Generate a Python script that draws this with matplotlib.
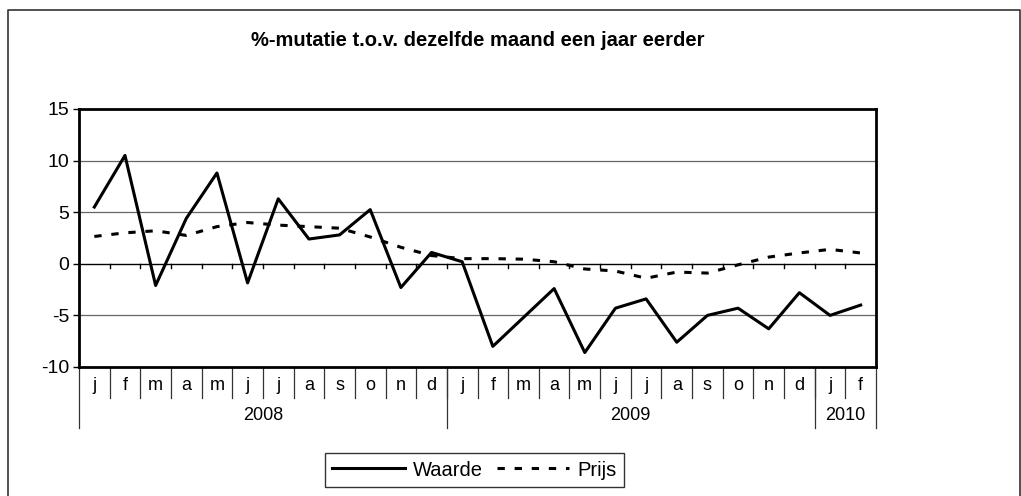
import matplotlib
matplotlib.use("Agg")
from matplotlib import pyplot as plt
from matplotlib.lines import Line2D

plt.rcParams['font.family'] = ['Liberation Sans', 'DejaVu Sans']

months = ['j', 'f', 'm', 'a', 'm', 'j', 'j', 'a', 's', 'o', 'n', 'd',
          'j', 'f', 'm', 'a', 'm', 'j', 'j', 'a', 's', 'o', 'n', 'd',
          'j', 'f']
years = ['2008', '2009', '2010']
year_counts = [12, 12, 2]

waarde = [5.5, 10.5, -2.1, 4.4, 8.8, -1.85, 6.3, 2.4, 2.8, 5.25, -2.3, 1.1,
          0.2, -8.0, -5.2, -2.4, -8.6, -4.3, -3.4, -7.6, -5.0, -4.3, -6.3, -2.8,
          -5.0, -4.0]
prijs = [2.65, 3.0, 3.2, 2.75, 3.6, 4.0, 3.75, 3.6, 3.45, 2.6, 1.6, 0.8,
         0.5, 0.5, 0.45, 0.2, -0.5, -0.7, -1.4, -0.8, -0.9, -0.1, 0.65, 1.05,
         1.4, 1.05]

W, H = 1021, 496
fig = plt.figure(figsize=(W / 100, H / 100), dpi=100)

# outer frame (left, top, right)
fig.add_artist(Line2D([8 / W, 8 / W, 1020 / W, 1020 / W], [0, 1 - 10 / H, 1 - 10 / H, 0],
                      transform=fig.transFigure, color='#333333', lw=1.2))

fig.text(478 / W, 1 - 40 / H, '%-mutatie t.o.v. dezelfde maand een jaar eerder',
         ha='center', va='center', fontsize=14.5, fontweight='bold')

ax = fig.add_axes([79 / W, 1 - 367 / H, 797 / W, 258 / H])
x = list(range(len(months)))
ax.plot(x, waarde, color='black', lw=2.2, label='Waarde')
ax.plot(x, prijs, color='black', lw=2.2, ls=(0, (2.4, 3.2)), label='Prijs')

ax.set_xlim(-0.5, len(months) - 0.5)
ax.set_ylim(-10, 15)
ax.set_yticks([-10, -5, 0, 5, 10, 15])
ax.set_yticklabels(['-10', '-5', '0', '5', '10', '15'])
ax.tick_params(axis='y', labelsize=14, length=4, width=1, pad=3)
ax.set_xticks([])
for y in [-5, 5, 10]:
    ax.axhline(y, color='#666666', lw=0.9, zorder=0)
ax.axhline(0, color='black', lw=1, zorder=1)
for s in ax.spines.values():
    s.set_linewidth(2)

# small ticks on the zero line at month boundaries
for b in range(1, len(months)):
    ax.plot([b - 0.5, b - 0.5], [0, -0.45], color='black', lw=1)

# category axis below the plot
tr = ax.get_xaxis_transform()
month_bottom = (367 - 398) / 258
year_bottom = (367 - 428) / 258
for i, m in enumerate(months):
    ax.text(i, (367 - 386) / 258, m, transform=tr, ha='center', va='center', fontsize=13)
for b in range(1, len(months)):
    ax.add_line(Line2D([b - 0.5, b - 0.5], [0, month_bottom], transform=tr,
                       color='#333333', lw=0.9, clip_on=False))
start = 0
bounds = [0]
for yr, n in zip(years, year_counts):
    ax.text(start + n / 2 - 0.5, (367 - 416) / 258, yr, transform=tr,
            ha='center', va='center', fontsize=13)
    start += n
    bounds.append(start)
for b in bounds:
    ax.add_line(Line2D([b - 0.5, b - 0.5], [0, year_bottom], transform=tr,
                       color='#333333', lw=0.9, clip_on=False))

leg = fig.legend(loc='center', bbox_to_anchor=(474.5 / W, 1 - 470 / H), ncol=2,
                 fontsize=14.5, frameon=True, fancybox=False, edgecolor='black',
                 handlelength=3.6, columnspacing=0.7, handletextpad=0.4,
                 borderpad=0.35, borderaxespad=0)
leg.get_frame().set_linewidth(1)

fig.savefig('out.png', dpi=100)
